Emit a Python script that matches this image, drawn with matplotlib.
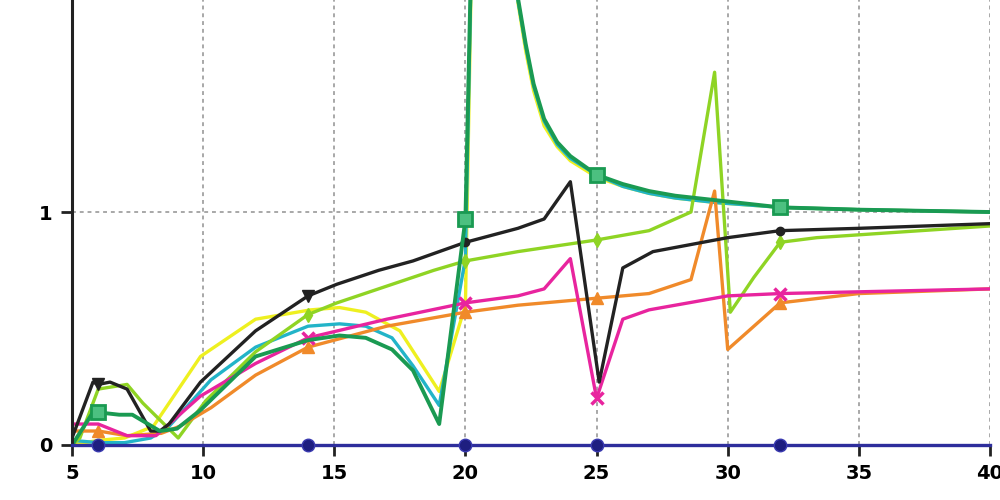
import matplotlib.pyplot as plt

# marker positions shared by the series
mark_x = [6, 14, 20, 25, 32]

dgreen_x = [5, 5.8, 6, 6.8, 7.3, 7.9, 8.35, 9, 9.9, 12, 14, 15.2, 16.2, 17.2, 18, 19, 20,
            20.3, 21, 21.7, 22, 22.3, 22.6, 23, 23.5, 24, 25, 26, 27, 28, 29.6, 32, 35, 40]
dgreen_y = [0.0, 0.14, 0.14, 0.13, 0.13, 0.09, 0.06, 0.07, 0.15, 0.38, 0.45, 0.47, 0.46, 0.41,
            0.32, 0.09, 0.97, 2.5, 6.0, 2.5, 1.92, 1.72, 1.55, 1.4, 1.3, 1.24, 1.16, 1.12, 1.09,
            1.07, 1.05, 1.02, 1.01, 1.0]

yellow_x = [5, 6, 7, 8.1, 9.9, 12, 14.1, 15.2, 16.2, 17.5, 19, 20, 20.3, 21, 21.7, 22, 22.3,
            22.6, 23, 23.5, 24, 25, 26, 27, 28, 29.6, 32, 35, 40]
yellow_y = [0.0, 0.02, 0.03, 0.08, 0.38, 0.54, 0.58, 0.59, 0.57, 0.49, 0.23, 0.6, 2.5, 6.0,
            2.5, 1.9, 1.69, 1.52, 1.37, 1.28, 1.22, 1.15, 1.11, 1.08, 1.06, 1.04, 1.02, 1.01, 1.0]

cyan_x = [5, 6, 7, 8, 8.7, 10.3, 12, 14, 15.2, 16.2, 17.2, 18, 19, 20, 20.3, 21, 21.7, 22,
          22.3, 22.6, 23, 23.5, 24, 25, 26, 27, 28, 29.6, 32, 35, 40]
cyan_y = [0.02, 0.01, 0.01, 0.03, 0.08, 0.28, 0.42, 0.51, 0.52, 0.51, 0.46, 0.34, 0.17, 0.8,
          2.5, 6.0, 2.5, 1.91, 1.71, 1.54, 1.39, 1.29, 1.23, 1.16, 1.11, 1.08, 1.06, 1.04, 1.02,
          1.01, 1.0]

black_x = [5, 5.8, 6, 6.45, 7.1, 8.0, 8.35, 8.7, 9.9, 12, 14, 15.1, 16.7, 18, 20, 22, 23, 24,
           25.1, 26, 27.15, 30, 32, 35, 40]
black_y = [0.03, 0.27, 0.26, 0.27, 0.24, 0.06, 0.06, 0.09, 0.27, 0.49, 0.64, 0.69, 0.75, 0.79,
           0.87, 0.93, 0.97, 1.13, 0.27, 0.76, 0.83, 0.89, 0.92, 0.93, 0.95]

lgreen_x = [5, 5.3, 6, 7.1, 7.7, 9.05, 10.1, 12, 14, 15.1, 18.8, 20, 22, 25, 27, 28.6, 29.5,
            30.1, 31, 32, 33.4, 40]
lgreen_y = [0.0, 0.03, 0.24, 0.26, 0.18, 0.03, 0.19, 0.4, 0.56, 0.61, 0.75, 0.79, 0.83, 0.88,
            0.92, 1.0, 1.6, 0.57, 0.72, 0.87, 0.89, 0.94]

magenta_x = [5, 6, 7.1, 8.2, 9.9, 12, 14, 17, 20, 22, 23, 24, 25, 26, 27, 30, 32, 40]
magenta_y = [0.09, 0.09, 0.04, 0.04, 0.21, 0.35, 0.46, 0.54, 0.61, 0.64, 0.67, 0.8, 0.2, 0.54,
             0.58, 0.64, 0.65, 0.67]

orange_x = [5, 6, 7.1, 8.4, 9.1, 10.3, 12, 14, 17, 20, 22, 25, 27, 28.6, 29.5, 30, 32, 35, 40]
orange_y = [0.06, 0.06, 0.04, 0.05, 0.08, 0.16, 0.3, 0.42, 0.51, 0.57, 0.6, 0.63, 0.65, 0.71,
            1.09, 0.41, 0.61, 0.65, 0.67]

navy_x = [5, 6, 14, 20, 25, 32, 40]
navy_y = [0, 0, 0, 0, 0, 0, 0]

x_ticks = [5, 10, 15, 20, 25, 30, 35, 40]
y_ticks = [0, 1]


def marks(xs, where):
    return [i for i, v in enumerate(xs) if v in where]


fig = plt.figure(figsize=(10, 5), dpi=100)
ax = fig.add_axes([0.072, 0.11, 0.918, 0.89])

lw = 2.4
ax.plot(yellow_x, yellow_y, color='#eef020', lw=lw)
ax.plot(cyan_x, cyan_y, color='#22b4c8', lw=lw)
ax.plot(lgreen_x, lgreen_y, color='#8fd424', lw=lw, marker='d', ms=7,
        markevery=marks(lgreen_x, [14, 20, 25, 32]))
ax.plot(orange_x, orange_y, color='#f08a2a', lw=lw, marker='^', ms=8,
        markevery=marks(orange_x, mark_x))
ax.plot(magenta_x, magenta_y, color='#e8249e', lw=lw, marker='x', ms=9, mew=2.5,
        markevery=marks(magenta_x, [14, 20, 25, 32]))
ax.plot(black_x, black_y, color='#222222', lw=lw)
ax.plot([black_x[i] for i in marks(black_x, [6, 14])],
        [black_y[i] for i in marks(black_x, [6, 14])], 'v', color='#222222', ms=8)
ax.plot([black_x[i] for i in marks(black_x, [20, 32])],
        [black_y[i] for i in marks(black_x, [20, 32])], 'o', color='#222222', ms=6)
ax.plot(dgreen_x, dgreen_y, color='#1a9a52', lw=lw + 0.4, marker='s', ms=10,
        mfc='#4cc080', mec='#1a9a52', mew=2,
        markevery=marks(dgreen_x, [6, 20, 25, 32]))
ax.plot(navy_x, navy_y, color='#2e2e9c', lw=2.4, marker='o', ms=9, mfc='#1e1e80',
        mec='#3a3ab0', markevery=marks(navy_x, mark_x), clip_on=False, zorder=5)

ax.set_xlim(5, 40)
ax.set_ylim(0, 1.91)
ax.set_xticks(x_ticks)
ax.set_yticks(y_ticks)
ax.set_xticklabels([str(t) for t in x_ticks], fontsize=14, fontweight='bold')
ax.set_yticklabels([str(t) for t in y_ticks], fontsize=14, fontweight='bold')
ax.tick_params(axis='both', length=8, width=2, pad=6, color='#222222')

ax.grid(True, color='#a8a8a8', ls=(0, (2, 2)), lw=1.4)
for s in ['top', 'right', 'bottom']:
    ax.spines[s].set_visible(False)
ax.spines['left'].set_linewidth(2.2)
ax.spines['left'].set_color('#222222')

fig.savefig('out.png', dpi=100)
